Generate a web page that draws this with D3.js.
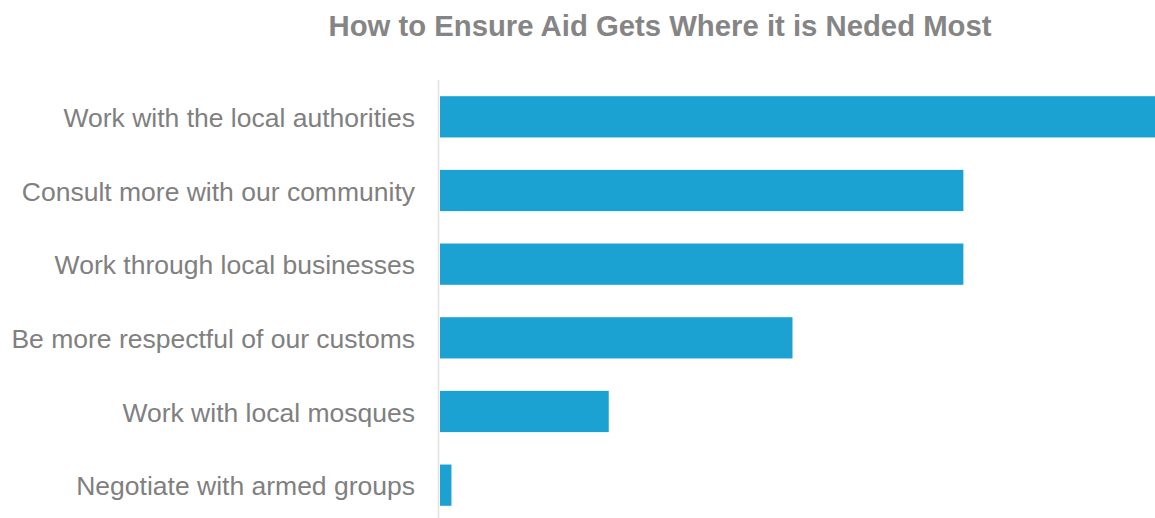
<!DOCTYPE html>
<meta charset="utf-8">
<style>
body { margin: 0; background: #fff; }
svg { display: block; font-family: "Liberation Sans", Arial, sans-serif; }
.title { fill: #858585; font-weight: bold; font-size: 29.3px; }
.label { fill: #808080; font-size: 26.5px; }
.bar { fill: #1ba1d2; }
</style>
<body>
<script src="https://d3js.org/d3.v7.min.js"></script>
<script>
// chart data (shares, longest bar = 100)
var categories = [
  "Work with the local authorities",
  "Consult more with our community",
  "Work through local businesses",
  "Be more respectful of our customs",
  "Work with local mosques",
  "Negotiate with armed groups"
];
var values = [100, 73.2, 73.2, 49.3, 23.6, 1.6];

var width = 1155, height = 518;
var margin = {top: 80, right: 0, bottom: -4, left: 440};

var data = categories.map(function(c, i) { return {name: c, value: values[i]}; });

var svg = d3.select("body").append("svg")
    .attr("width", width)
    .attr("height", height);

var x = d3.scaleLinear()
    .domain([0, d3.max(values)])
    .range([margin.left, width - margin.right]);

var y = d3.scaleBand()
    .domain(categories)
    .range([margin.top, height - margin.bottom])
    .paddingInner(0.44)
    .paddingOuter(0.22);

// title
svg.append("text")
    .attr("class", "title")
    .attr("x", 660)
    .attr("y", 36)
    .attr("text-anchor", "middle")
    .text("How to Ensure Aid Gets Where it is Neded Most");

// vertical baseline
svg.append("line")
    .attr("x1", margin.left - 1.5).attr("x2", margin.left - 1.5)
    .attr("y1", margin.top).attr("y2", height)
    .attr("stroke", "#e0e0e0")
    .attr("stroke-width", 1.5);

svg.selectAll(".bar")
    .data(data)
  .enter().append("rect")
    .attr("class", "bar")
    .attr("x", x(0))
    .attr("y", function(d) { return y(d.name); })
    .attr("width", function(d) { return x(d.value) - x(0); })
    .attr("height", y.bandwidth());

svg.selectAll(".label")
    .data(data)
  .enter().append("text")
    .attr("class", "label")
    .attr("x", margin.left - 25)
    .attr("y", function(d) { return y(d.name) + y.bandwidth() / 2 + 1; })
    .attr("dy", "0.35em")
    .attr("text-anchor", "end")
    .text(function(d) { return d.name; });
</script>
</body>
